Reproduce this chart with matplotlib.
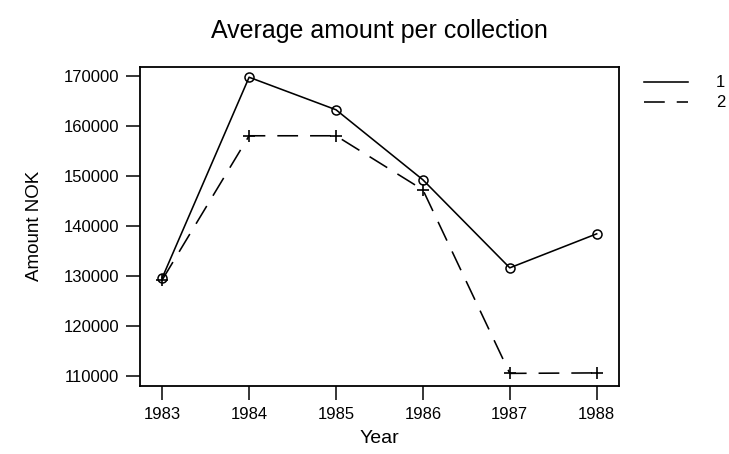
import numpy as np
import matplotlib
matplotlib.use("Agg")
import matplotlib.pyplot as plt
from matplotlib.lines import Line2D

plt.rcParams['font.family'] = ['Liberation Sans', 'DejaVu Sans']

years = [1983, 1984, 1985, 1986, 1987, 1988]
amount1 = [129600, 169700, 163200, 149200, 131600, 138400]
amount2 = [129200, 158000, 158000, 147200, 110500, 110600]
yticks = [110000, 120000, 130000, 140000, 150000, 160000, 170000]
series_labels = ['1', '2']

dash = (13, 7.5)

fig = plt.figure(figsize=(7.29, 4.54), dpi=100)
ax = fig.add_axes([0.192, 0.150, 0.657, 0.703])

ax.plot(years, amount1, color='black', lw=1.15, marker='o', ms=6.5,
        mfc='none', mec='black', mew=1.1)
ax.plot(years, amount2, color='black', lw=1.15, dashes=dash, marker='+',
        ms=8, mew=1.2)

ax.set_xlim(1982.744, 1988.256)
ax.set_ylim(108000, 171800)
ax.set_xticks(years)
ax.set_yticks(yticks)
ax.tick_params(labelsize=12, length=10, width=1.1, direction='out', pad=5)
for s in ax.spines.values():
    s.set_linewidth(1.3)

ax.set_xlabel('Year', fontsize=14, labelpad=6)
ax.set_ylabel('Amount NOK', fontsize=13.5, labelpad=15)
ax.set_title('Average amount per collection', fontsize=18, pad=21)

handles = [Line2D([], [], color='black', lw=1.15),
           Line2D([], [], color='black', lw=1.15, dashes=dash)]
fig.legend(handles, series_labels, loc='upper left',
           bbox_to_anchor=(0.883, 0.834), frameon=False, fontsize=12,
           handlelength=2.64, handletextpad=1.7, labelspacing=0.3,
           borderpad=0, borderaxespad=0)

fig.savefig('out.png', dpi=100)
